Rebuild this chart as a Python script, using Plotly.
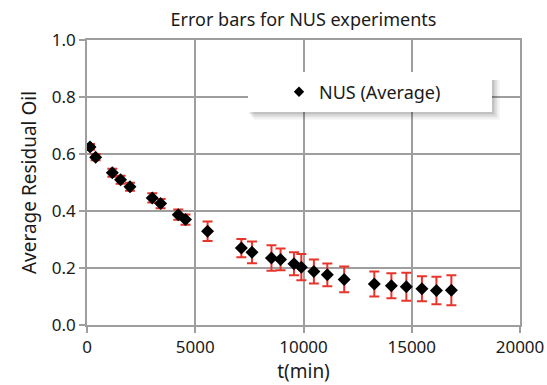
import plotly.graph_objects as go

t_min = [140, 400, 1170, 1550, 1985, 3015, 3400, 4215, 4550, 5570, 7130, 7620,
         8520, 8940, 9560, 9900, 10480, 11100, 11880, 13270, 14060, 14750, 15470, 16140, 16830]
avg_oil = [0.625, 0.589, 0.534, 0.510, 0.485, 0.446, 0.426, 0.387, 0.370, 0.329, 0.270, 0.255,
           0.235, 0.230, 0.215, 0.203, 0.188, 0.176, 0.160, 0.144, 0.138, 0.134, 0.127, 0.121, 0.122]
err = [0.010, 0.011, 0.014, 0.014, 0.014, 0.016, 0.016, 0.018, 0.018, 0.034, 0.032, 0.038,
       0.045, 0.038, 0.040, 0.046, 0.042, 0.040, 0.045, 0.044, 0.044, 0.049, 0.044, 0.048, 0.053]
x_ticks = [0, 5000, 10000, 15000, 20000]
y_ticks = [0.0, 0.2, 0.4, 0.6, 0.8, 1.0]
series_name = "NUS (Average)"

FONT = "Noto Sans"
GRID = "#9e9e9e"
TXT = "#1a1a1a"

fig = go.Figure()
fig.add_trace(go.Scatter(
    x=t_min, y=avg_oil, mode="markers", showlegend=False,
    marker=dict(symbol="diamond", size=10, color="black"),
    error_y=dict(type="data", array=err, color="#e8352b", thickness=2, width=5),
))
# legend entry
fig.add_trace(go.Scatter(
    x=[None], y=[None], mode="markers", name=series_name,
    marker=dict(symbol="diamond", size=8, color="black"),
))

L, R, T, B = 87, 27, 40, 60
W, H = 547, 385
pw, ph = W - L - R, H - T - B

def px_x(p):
    return (p - L) / pw

def px_y(p):
    return (H - B - p) / ph

# legend box with soft shadow
shapes = []
bx0, bx1, by0, by1 = 248, 492, 72, 112
for i, op in enumerate([0.03, 0.04, 0.05, 0.06, 0.08]):
    off = 8 - 1.5 * i
    shapes.append(dict(type="rect", xref="paper", yref="paper", layer="above",
                       x0=px_x(bx0 + 6 - 1.2 * i), x1=px_x(bx1 + off), y0=px_y(by1 + off),
                       y1=px_y(by0 + 8),
                       fillcolor=f"rgba(0,0,0,{op})", line=dict(width=0)))
shapes.append(dict(type="rect", xref="paper", yref="paper", layer="above",
                   x0=px_x(bx0), x1=px_x(bx1), y0=px_y(by1), y1=px_y(by0),
                   fillcolor="white", line=dict(width=0)))

fig.update_layout(
    width=W, height=H,
    margin=dict(l=L, r=R, t=T, b=B),
    paper_bgcolor="white", plot_bgcolor="white",
    font=dict(family=FONT, color=TXT, size=16),
    title=dict(text="Error bars for NUS experiments", x=303.5 / W,
               xanchor="center", y=1 - 20 / H, yanchor="middle", automargin=False,
               font=dict(size=18, family=FONT, color=TXT)),
    shapes=shapes,
    legend=dict(x=px_x(279), xanchor="left", y=px_y(92), yanchor="middle",
                bgcolor="rgba(0,0,0,0)", borderwidth=0,
                font=dict(size=18, family=FONT, color=TXT)),
    xaxis=dict(range=[0, 20000], tickvals=x_ticks, ticktext=[str(v) for v in x_ticks],
               automargin=False,
               showgrid=True, gridcolor=GRID, gridwidth=1.5,
               showline=True, linecolor=GRID, linewidth=1.5, mirror=True,
               ticks="outside", ticklen=6, tickcolor=GRID, tickwidth=1.5,
               zeroline=False,
               tickfont=dict(size=17, family=FONT, color=TXT),
               title=dict(text="t(min)", font=dict(size=19, family=FONT, color=TXT), standoff=8)),
    yaxis=dict(range=[0, 1.0], tickvals=y_ticks, ticktext=[f"{v:.1f}" for v in y_ticks],
               automargin=False,
               showgrid=True, gridcolor=GRID, gridwidth=1.5,
               showline=True, linecolor=GRID, linewidth=1.5, mirror=True,
               ticks="outside", ticklen=6, tickcolor=GRID, tickwidth=1.5,
               zeroline=False,
               tickfont=dict(size=17, family=FONT, color=TXT),
               title=dict(text="Average Residual Oil", font=dict(size=19, family=FONT, color=TXT), standoff=10)),
)

fig.write_html("out.html")
